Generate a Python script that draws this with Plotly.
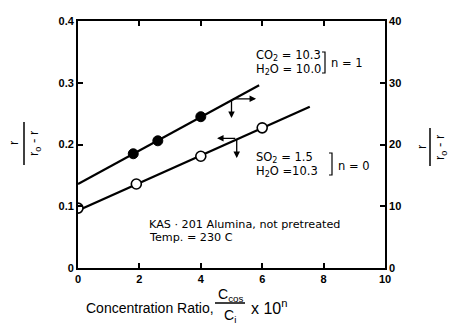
import plotly.graph_objects as go

# Data
x_n1 = [1.8, 2.6, 4.0]
y_n1 = [0.185, 0.206, 0.245]
x_n0 = [0.0, 1.9, 4.0, 6.0]
y_n0 = [0.097, 0.136, 0.181, 0.227]
fit_n1_x = [0.0, 5.9]
fit_n1_y = [0.136, 0.296]
fit_n0_x = [0.0, 7.55]
fit_n0_y = [0.093, 0.261]
x_ticks = [0, 2, 4, 6, 8, 10]
y_left_ticks = [0, 0.1, 0.2, 0.3, 0.4]
y_left_labels = ["0", "0.1", "0.2", "0.3", "0.4"]
y_right_ticks = [0, 10, 20, 30, 40]

FONT = "Liberation Sans, Arial, sans-serif"
WFONT = "DejaVu Sans, sans-serif"
W, H = 451, 329
L, R, T, B = 78, 385, 21, 268

def px(xp):
    return (xp - L) / (R - L)

def py(yp):
    return (B - yp) / (B - T)

fig = go.Figure()
fig.add_trace(go.Scatter(x=fit_n1_x, y=fit_n1_y, mode="lines",
                         line=dict(color="black", width=2.2), showlegend=False))
fig.add_trace(go.Scatter(x=fit_n0_x, y=fit_n0_y, mode="lines",
                         line=dict(color="black", width=2.2), showlegend=False))
fig.add_trace(go.Scatter(x=x_n1, y=y_n1, mode="markers",
                         marker=dict(color="black", size=10, line=dict(color="black", width=1)),
                         showlegend=False))
fig.add_trace(go.Scatter(x=x_n0, y=y_n0, mode="markers",
                         marker=dict(color="white", size=10, line=dict(color="black", width=1.6)),
                         showlegend=False))
# invisible trace to activate right axis
fig.add_trace(go.Scatter(x=[0], y=[0], yaxis="y2", mode="markers",
                         marker=dict(opacity=0), showlegend=False, hoverinfo="skip"))

tickfont = dict(family=FONT, size=11, color="black", weight="bold")

fig.update_layout(
    width=W, height=H,
    margin=dict(l=L, r=W - R, t=T, b=H - B),
    paper_bgcolor="white", plot_bgcolor="white",
    xaxis=dict(range=[0, 10], tickvals=x_ticks, ticks="inside", ticklen=5,
               tickwidth=1.5, tickcolor="black", showline=True, linecolor="black",
               linewidth=1.8, mirror="ticks", showgrid=False, zeroline=False,
               tickfont=tickfont, automargin=False),
    yaxis=dict(range=[0, 0.4], tickvals=y_left_ticks, ticktext=y_left_labels,
               ticks="inside", ticklen=5, tickwidth=1.5, tickcolor="black",
               showline=True, linecolor="black", linewidth=1.8, showgrid=False,
               zeroline=False, tickfont=tickfont, automargin=False),
    yaxis2=dict(range=[0, 40], tickvals=y_right_ticks, overlaying="y", side="right",
                ticks="inside", ticklen=5, tickwidth=1.5, tickcolor="black",
                showline=True, linecolor="black", linewidth=1.8, showgrid=False,
                zeroline=False, tickfont=tickfont, automargin=False),
)

def dx(xp):
    return (xp - L) / 30.7

def dy(yp):
    return (B - yp) / 617.5

ann_font = dict(family=WFONT, size=11.5, color="black")

anns = []
# arrows
for (hx, hy, tx, ty) in [(5.8, 0.274, 5.0, 0.274), (5.0, 0.243, 5.0, 0.274),
                         (4.53, 0.21, 5.17, 0.21), (5.17, 0.178, 5.17, 0.21)]:
    anns.append(dict(x=hx, y=hy, ax=tx, ay=ty, xref="x", yref="y", axref="x", ayref="y",
                     showarrow=True, text="", arrowhead=2, arrowsize=1, arrowwidth=1.3,
                     arrowcolor="black"))

# condition labels
anns.append(dict(x=dx(254), y=dy(55), xref="x", yref="y", xanchor="left", yanchor="middle",
                 text="CO<sub>2</sub> = 10.3", showarrow=False, font=ann_font))
anns.append(dict(x=dx(254), y=dy(69), xref="x", yref="y", xanchor="left", yanchor="middle",
                 text="H<sub>2</sub>O = 10.0", showarrow=False, font=ann_font))
anns.append(dict(x=dx(329), y=dy(63), xref="x", yref="y", xanchor="left", yanchor="middle",
                 text="n = 1", showarrow=False, font=ann_font))
anns.append(dict(x=dx(254), y=dy(157), xref="x", yref="y", xanchor="left", yanchor="middle",
                 text="SO<sub>2</sub> = 1.5", showarrow=False, font=ann_font))
anns.append(dict(x=dx(254), y=dy(171), xref="x", yref="y", xanchor="left", yanchor="middle",
                 text="H<sub>2</sub>O =10.3", showarrow=False, font=ann_font))
anns.append(dict(x=dx(336), y=dy(166), xref="x", yref="y", xanchor="left", yanchor="middle",
                 text="n = 0", showarrow=False, font=ann_font))
anns.append(dict(x=dx(147), y=dy(224), xref="x", yref="y", xanchor="left", yanchor="middle",
                 text="KAS · 201 Alumina, not pretreated", showarrow=False,
                 font=dict(family=WFONT, size=11.2, color="black")))
anns.append(dict(x=dx(147), y=dy(237), xref="x", yref="y", xanchor="left", yanchor="middle",
                 text="Temp. = 230 C", showarrow=False,
                 font=dict(family=WFONT, size=11.2, color="black")))

# y-axis fraction labels
lab_font = dict(family=FONT, size=13, color="black")
for (xn, xd, yc) in [(13, 34, 143), (421, 440, 147)]:
    anns.append(dict(x=px(xn), y=py(yc), xref="paper", yref="paper", text="r",
                     textangle=-90, showarrow=False, font=lab_font,
                     xanchor="center", yanchor="middle"))
    anns.append(dict(x=px(xd), y=py(yc), xref="paper", yref="paper",
                     text="r<sub>o</sub> - r", textangle=-90, showarrow=False,
                     font=lab_font, xanchor="center", yanchor="middle"))

# x-axis title pieces
xt_font = dict(family=FONT, size=14, color="black")
anns.append(dict(x=px(216), y=py(308), xref="paper", yref="paper", xanchor="right",
                 yanchor="middle", text="Concentration Ratio,", showarrow=False, font=xt_font))
anns.append(dict(x=px(230), y=py(295), xref="paper", yref="paper", xanchor="center",
                 yanchor="middle", text="C<sub>cos</sub>", showarrow=False, font=xt_font))
anns.append(dict(x=px(230), y=py(316), xref="paper", yref="paper", xanchor="center",
                 yanchor="middle", text="C<sub>i</sub>", showarrow=False, font=xt_font))
anns.append(dict(x=px(249), y=py(307), xref="paper", yref="paper", xanchor="left",
                 yanchor="middle", text="x 10<sup>n</sup>", showarrow=False,
                 font=dict(family=FONT, size=16, color="black")))
fig.update_layout(annotations=anns)

shapes = []
# fraction bars
for (xb, y0, y1) in [(24, 122, 165), (430, 128, 166)]:
    shapes.append(dict(type="line", xref="paper", yref="paper", x0=px(xb), x1=px(xb),
                       y0=py(y0), y1=py(y1), line=dict(color="black", width=1.5)))
shapes.append(dict(type="line", xref="paper", yref="paper", x0=px(215), x1=px(245),
                   y0=py(303), y1=py(303), line=dict(color="black", width=1.5)))
# brackets
for (xb, y0, y1) in [(325, 52, 73), (332, 153, 175)]:
    shapes.append(dict(type="path", xref="paper", yref="paper",
                       path=f"M {px(xb-3)},{py(y0)} L {px(xb)},{py(y0)} L {px(xb)},{py(y1)} L {px(xb-3)},{py(y1)}",
                       line=dict(color="black", width=1.2)))
fig.update_layout(shapes=shapes)

fig.write_html("out.html", config={"displayModeBar": False},
               post_script="document.body.style.margin='0';document.body.style.padding='0';")
